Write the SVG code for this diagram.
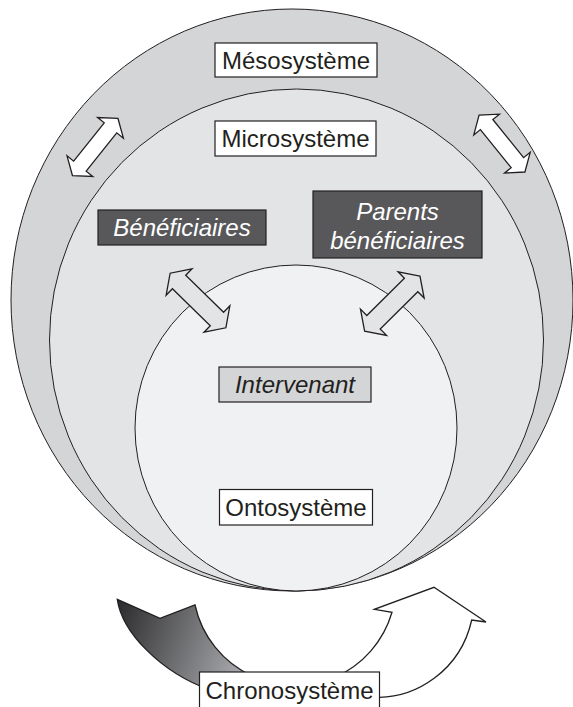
<svg xmlns="http://www.w3.org/2000/svg" width="573" height="707" viewBox="0 0 573 707">
<style>
.ring{stroke:#231f20;stroke-width:1}
.box{stroke:#231f20;stroke-width:1.2}
.lbl{font-family:"Liberation Sans",Arial,Helvetica,sans-serif;font-size:24px;text-anchor:middle;fill:#231f20}
.it{font-style:italic}
.wt{fill:#ffffff}
.arr{stroke:#231f20;stroke-width:1.3;stroke-linejoin:miter}
</style>
<defs>
<linearGradient id="chronoGrad" gradientUnits="userSpaceOnUse" x1="117" y1="600" x2="250" y2="650">
<stop offset="0" stop-color="#2a2a2c"/>
<stop offset="1" stop-color="#a9aaad"/>
</linearGradient>
<polygon id="arrOut" points="36.5,0 24.5,-16.5 24.5,-8 -24.5,-8 -24.5,-16.5 -36.5,0 -24.5,16.5 -24.5,8 24.5,8 24.5,16.5"/>
<polygon id="arrIn" points="39,0 26.5,-18.5 26.5,-9.5 -26.5,-9.5 -26.5,-18.5 -39,0 -26.5,18.5 -26.5,9.5 26.5,9.5 26.5,18.5"/>
</defs>
<rect width="573" height="707" fill="#ffffff"/>

<g id="mesosysteme">
<ellipse class="ring" cx="292" cy="300" rx="281" ry="291" fill="#d4d5d7"/>
</g>
<g id="microsysteme">
<ellipse class="ring" cx="296.5" cy="340" rx="247" ry="251" fill="#e3e4e6"/>
</g>
<g id="ontosysteme">
<ellipse class="ring" cx="296" cy="428" rx="161" ry="163" fill="#f0f1f3"/>
</g>

<g id="label-mesosysteme">
<rect class="box" x="215" y="43" width="162" height="34" fill="#ffffff"/>
<text class="lbl" x="296" y="68.5">Mésosystème</text>
</g>
<g id="label-microsysteme">
<rect class="box" x="215" y="121" width="161" height="35" fill="#ffffff"/>
<text class="lbl" x="295.5" y="147">Microsystème</text>
</g>
<g id="beneficiaires">
<rect class="box" x="98" y="210" width="168" height="35" fill="#58585a" stroke="#3a3a3c"/>
<text class="lbl it wt" x="182" y="236">Bénéficiaires</text>
</g>
<g id="parents-beneficiaires">
<rect class="box" x="313" y="191" width="169" height="67" fill="#58585a"/>
<text class="lbl it wt" x="397.5" y="220">Parents</text>
<text class="lbl it wt" x="397.5" y="248.5">bénéficiaires</text>
</g>
<g id="intervenant">
<rect class="box" x="219" y="367" width="152" height="35" fill="#d4d5d7"/>
<text class="lbl it" x="295" y="392.5">Intervenant</text>
</g>
<g id="label-ontosysteme">
<rect class="box" x="219.5" y="489.5" width="153" height="35.5" fill="#ffffff"/>
<text class="lbl" x="296" y="515.5">Ontosystème</text>
</g>

<g id="connectors">
<use href="#arrOut" class="arr" fill="#ffffff" transform="translate(95.2,147) rotate(-51.4)"/>
<use href="#arrOut" class="arr" fill="#ffffff" transform="translate(502,143.6) rotate(51.1)"/>
<use href="#arrIn" class="arr" fill="#e3e4e6" transform="translate(198,300.5) rotate(44.4)"/>
<use href="#arrIn" class="arr" fill="#e3e4e6" transform="translate(392.3,303.6) rotate(-44.8)"/>
<path class="arr" fill="url(#chronoGrad)" d="M117.3,599.3 L160,618.3 L195,605 A102,102 0 0,0 252,676 L210,690 C160,672 122,632 117.3,599.3 Z"/>
<path class="arr" fill="#ffffff" d="M335,677.2 A102,102 0 0,0 392,612.3 L374.3,609.3 L434,587.3 L486,622 L471.7,620 C460,672 415,697 379.3,697.3 L370,700 Z"/>
</g>

<g id="chronosysteme">
<rect class="box" x="199.5" y="672" width="180" height="40" fill="#ffffff"/>
<text class="lbl" x="289.5" y="698.5">Chronosystème</text>
</g>
</svg>
